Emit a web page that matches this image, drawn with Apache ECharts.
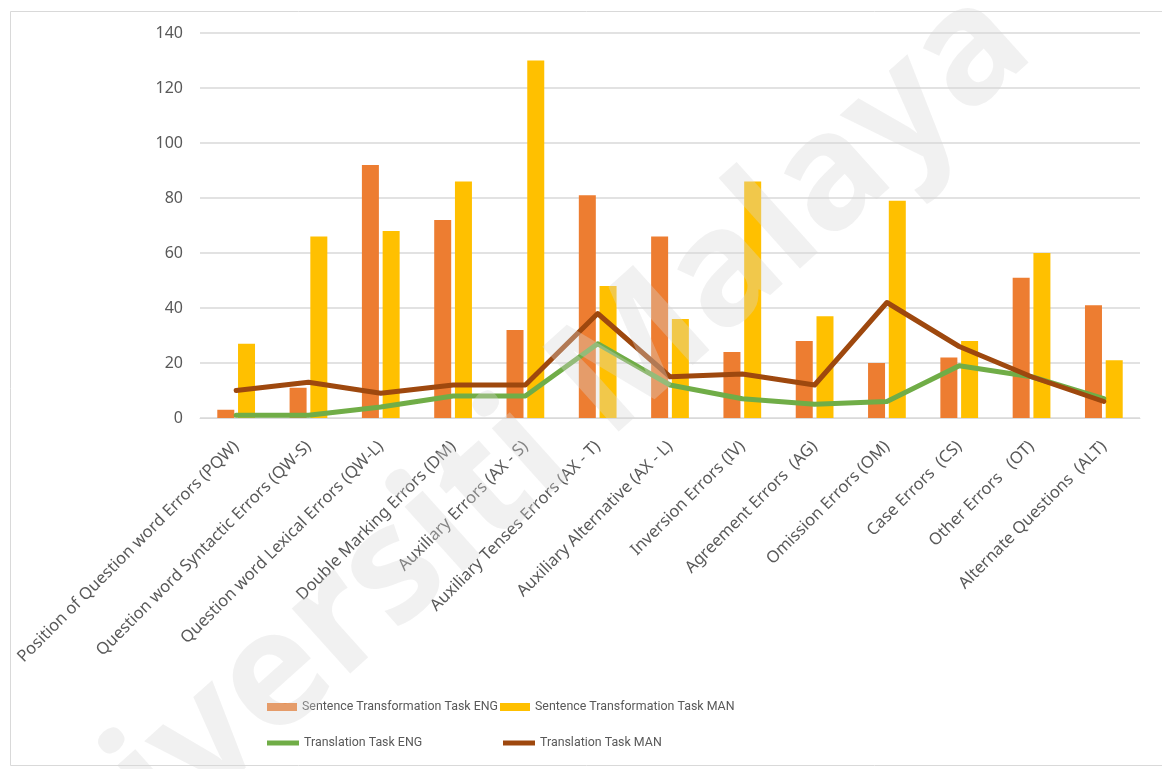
<!DOCTYPE html>
<html>
<head>
<meta charset="utf-8">
<script src="https://cdn.jsdelivr.net/npm/echarts@6/dist/echarts.min.js"></script>
<style>
  html, body { margin: 0; padding: 0; background: #fff; }
  #main { width: 1162px; height: 769px; }
</style>
</head>
<body>
<div id="main"></div>
<script>
const categories = [
  "Position of Question word Errors (PQW)",
  "Question word Syntactic Errors (QW-S)",
  "Question word Lexical Errors (QW-L)",
  "Double Marking Errors (DM)",
  "Auxiliary Errors (AX - S)",
  "Auxiliary Tenses Errors (AX - T)",
  "Auxiliary Alternative (AX - L)",
  "Inversion Errors (IV)",
  "Agreement Errors  (AG)",
  "Omission Errors (OM)",
  "Case Errors  (CS)",
  "Other Errors   (OT)",
  "Alternate Questions  (ALT)"
];
const sentenceEng = [3, 11, 92, 72, 32, 81, 66, 24, 28, 20, 22, 51, 41];
const sentenceMan = [27, 66, 68, 86, 130, 48, 36, 86, 37, 79, 28, 60, 21];
const translationEng = [1, 1, 4, 8, 8, 27, 12, 7, 5, 6, 19, 15, 7];
const translationMan = [10, 13, 9, 12, 12, 38, 15, 16, 12, 42, 26, 15, 6];
const yTicks = [0, 20, 40, 60, 80, 100, 120, 140];

const chart = echarts.init(document.getElementById("main"));

const legendText = { color: "#595959", fontSize: 12.4, fontFamily: "Roboto, sans-serif" };

const option = {
  backgroundColor: "#fff",
  animation: false,
  grid: { left: 200, right: 22, top: 33, bottom: 351, containLabel: false },
  legend: [
    { data: [{ name: "Sentence Transformation Task ENG", icon: "rect" }], left: 267, top: 701, padding: 0,
      itemWidth: 30, itemHeight: 8, textStyle: legendText },
    { data: [{ name: "Sentence Transformation Task MAN", icon: "rect" }], left: 500, top: 701, padding: 0,
      itemWidth: 30, itemHeight: 8, textStyle: legendText },
    { data: [{ name: "Translation Task ENG", icon: "rect" }], left: 267, top: 737, padding: 0,
      itemWidth: 32, itemHeight: 5, textStyle: legendText },
    { data: [{ name: "Translation Task MAN", icon: "rect" }], left: 503, top: 737, padding: 0,
      itemWidth: 32, itemHeight: 5, textStyle: legendText }
  ],
  xAxis: {
    type: "category",
    data: categories,
    axisTick: { show: false },
    axisLine: { show: true, lineStyle: { color: "#d9d9d9", width: 1 } },
    axisLabel: {
      rotate: 45, interval: 0, margin: 26,
      color: "#595959", fontSize: 16.5, fontFamily: "'Noto Sans', sans-serif"
    }
  },
  yAxis: {
    type: "value",
    min: yTicks[0],
    max: yTicks[yTicks.length - 1],
    interval: 20,
    axisLine: { show: false },
    axisTick: { show: false },
    axisLabel: { margin: 17, color: "#595959", fontSize: 16, fontFamily: "'Noto Sans', sans-serif" },
    splitLine: { lineStyle: { color: "#d9d9d9", width: 1.5 } }
  },
  series: [
    { name: "Sentence Transformation Task ENG", type: "bar", data: sentenceEng,
      barWidth: 17, barGap: "22%", color: "#ED7D31" },
    { name: "Sentence Transformation Task MAN", type: "bar", data: sentenceMan,
      barWidth: 17, barGap: "22%", color: "#FFC000" },
    { name: "Translation Task ENG", type: "line", data: translationEng, color: "#70AD47",
      showSymbol: false, lineStyle: { width: 5, color: "#70AD47", cap: "round", join: "round" }, z: 3 },
    { name: "Translation Task MAN", type: "line", data: translationMan, color: "#9E480E",
      showSymbol: false, lineStyle: { width: 5, color: "#9E480E", cap: "round", join: "round" }, z: 4 }
  ],
  graphic: [
    { type: "rect", left: 8, top: 9, shape: { width: 1152, height: 754 }, silent: true,
      style: { fill: null, stroke: "#d9d9d9", lineWidth: 1 } },
    // faint watermark across the chart
    { type: "text", x: 488, y: 488, rotation: 42 * Math.PI / 180, silent: true, z: 100,
      style: { text: "Universiti Malaya", font: "bold 160px 'Noto Sans', sans-serif",
        fill: "rgba(215,215,215,0.35)", align: "center", verticalAlign: "middle" } }
  ]
};

chart.setOption(option);
</script>
</body>
</html>
